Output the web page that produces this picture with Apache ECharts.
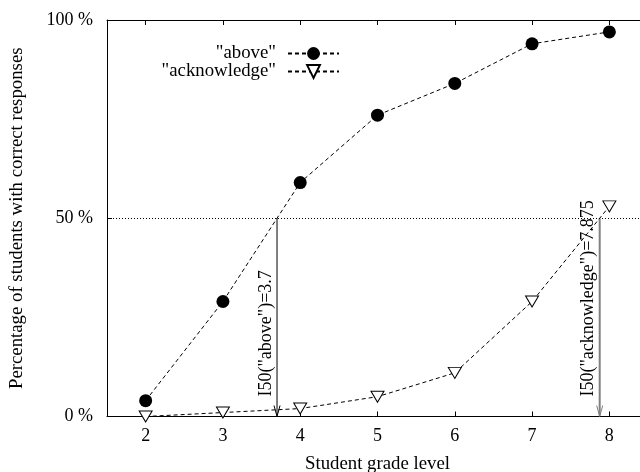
<!DOCTYPE html>
<html>
<head>
<meta charset="utf-8">
<script src="https://cdn.jsdelivr.net/npm/echarts@6/dist/echarts.min.js"></script>
<style>
  html, body { margin: 0; padding: 0; background: #fff; }
  #chart { width: 640px; height: 472px; }
</style>
</head>
<body>
<div id="chart"></div>
<script>
// Grade levels and percentage of correct responses per item
const grades = [2, 3, 4, 5, 6, 7, 8];
const aboveValues = [4, 29, 59, 76, 84, 94, 97];
const acknowledgeValues = [0, 1, 2, 5, 11, 29, 53];
const yTicks = [0, 50, 100];
const threshold = 50;
// Interpolated grade at which each item crosses 50 %
const i50Grades = [3.7, 7.875];
const i50Labels = ['I50("above")=3.7', 'I50("acknowledge")=7.875'];
const seriesNames = ['"above"', '"acknowledge"'];

const FONT = '"Liberation Serif", "DejaVu Serif", serif';
const FS = 18;
const FS_TITLE = 18.8;

const chart = echarts.init(document.getElementById('chart'), null, { renderer: 'canvas' });

const xAxisBase = {
  type: 'value',
  min: 1.5,
  max: 8.5,
  splitLine: { show: false },
  axisLine: { show: true, lineStyle: { color: '#000', width: 1 } }
};

const legendBase = {
  right: 300, orient: 'horizontal', align: 'right', padding: 0,
  itemWidth: 51, itemHeight: 16, selectedMode: false,
  textStyle: { fontFamily: FONT, fontSize: FS_TITLE, color: '#000', padding: [0, 7, 0, 0] }
};

const option = {
  backgroundColor: '#fff',
  animation: false,
  textStyle: { fontFamily: FONT },
  grid: { left: 107, right: -8, top: 20, bottom: 55.5, containLabel: false, outerBoundsMode: 'none' },
  legend: [
    Object.assign({}, legendBase, { data: [seriesNames[0]], top: 44 }),
    Object.assign({}, legendBase, { data: [seriesNames[1]], top: 62 })
  ],
  xAxis: [
    Object.assign({}, xAxisBase, {
      position: 'bottom',
      name: 'Student grade level',
      nameLocation: 'middle',
      nameGap: 38,
      nameTextStyle: { fontFamily: FONT, fontSize: FS_TITLE, color: '#000' },
      axisTick: { show: true, inside: true, length: 5, customValues: grades, lineStyle: { color: '#000' } },
      axisLabel: { show: true, customValues: grades, margin: 11, fontFamily: FONT, fontSize: FS, color: '#000' }
    }),
    Object.assign({}, xAxisBase, {
      position: 'top',
      axisTick: { show: true, inside: true, length: 5, customValues: grades, lineStyle: { color: '#000' } },
      axisLabel: { show: false }
    })
  ],
  yAxis: {
    type: 'value',
    min: 0,
    max: 100,
    interval: 50,
    name: 'Percentage of students with correct responses',
    nameLocation: 'middle',
    nameGap: 80,
    nameTextStyle: { fontFamily: FONT, fontSize: FS_TITLE, color: '#000' },
    axisLine: { show: true, lineStyle: { color: '#000', width: 1 } },
    axisTick: { show: true, inside: true, length: 5, lineStyle: { color: '#000' } },
    axisLabel: { margin: 14, fontFamily: FONT, fontSize: FS, color: '#000', formatter: v => v + ' %' },
    splitLine: { show: false }
  },
  series: [
    {
      name: seriesNames[0],
      type: 'line',
      data: grades.map((g, i) => [g, aboveValues[i]]),
      symbol: 'circle',
      symbolSize: 13,
      itemStyle: { color: '#000' },
      lineStyle: { color: '#000', width: 1, type: [4, 3] },
      markLine: {
        silent: true,
        symbol: 'none',
        label: { show: false },
        lineStyle: { color: '#000', width: 1, type: [1, 2] },
        data: [{ yAxis: threshold }]
      },
      z: 3
    },
    {
      name: seriesNames[1],
      type: 'line',
      data: grades.map((g, i) => [g, acknowledgeValues[i]]),
      symbol: 'triangle',
      symbolRotate: 180,
      symbolSize: [13, 11],
      itemStyle: { color: '#fff', borderColor: '#000', borderWidth: 1 },
      lineStyle: { color: '#000', width: 1, type: [4, 3] },
      z: 3
    },
    {
      type: 'custom',
      data: i50Grades.map((g, i) => [g, threshold, i]),
      encode: { x: 0, y: 1 },
      z: 4,
      renderItem(params, api) {
        const idx = api.value(2);
        const x = api.value(0);
        const top = api.coord([x, api.value(1)]);
        const bot = api.coord([x, 0]);
        const color = idx === 0 ? '#000' : '#808080';
        const width = idx === 0 ? 1 : 2;
        return {
          type: 'group',
          children: [
            { type: 'line', shape: { x1: top[0], y1: top[1], x2: bot[0], y2: bot[1] - 1 },
              style: { stroke: color, lineWidth: width } },
            { type: 'polyline',
              shape: { points: [[bot[0] - 3, bot[1] - 11], [bot[0], bot[1]], [bot[0] + 3, bot[1] - 11]] },
              style: { stroke: color, lineWidth: 1, fill: null } },
            { type: 'text', x: bot[0] - 2, y: bot[1] - 20, rotation: Math.PI / 2,
              style: { text: i50Labels[idx], font: FS + 'px ' + FONT, fill: '#000',
                       align: 'left', verticalAlign: 'bottom' } }
          ]
        };
      }
    }
  ]
};

chart.setOption(option);
</script>
</body>
</html>
